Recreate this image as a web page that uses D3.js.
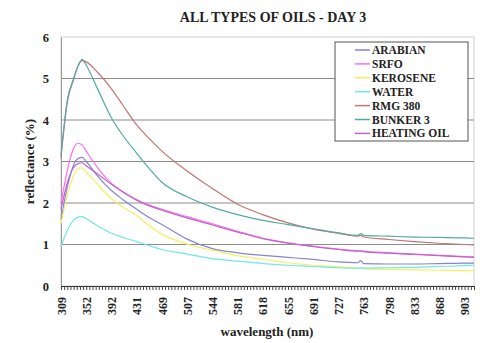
<!DOCTYPE html>
<html>
<head>
<meta charset="utf-8">
<script src="https://cdn.jsdelivr.net/npm/d3@7"></script>
<style>
body { margin: 0; background: #fff; }
text { font-family: "Liberation Serif", "Times New Roman", serif; font-weight: bold; fill: #222; }
</style>
</head>
<body>
<svg id="chart" width="482" height="343"></svg>
<script>
var wavelengths = [309,320,330,338,345,352,370,392,410,431,450,469,507,544,581,618,655,691,727,755,759,763,798,833,868,903,916];

var arabian  = [1.6,2.4,2.9,3.07,3.1,3.0,2.65,2.3,2.08,1.85,1.65,1.48,1.13,0.9,0.8,0.74,0.69,0.64,0.58,0.56,0.61,0.54,0.53,0.53,0.54,0.55,0.55];
var srfo     = [2.0,2.8,3.3,3.44,3.4,3.25,2.85,2.47,2.27,2.08,1.95,1.85,1.67,1.5,1.32,1.15,1.04,0.96,0.89,0.85,0.85,0.84,0.8,0.77,0.74,0.71,0.7];
var kerosene = [1.5,2.2,2.65,2.83,2.85,2.75,2.45,2.1,1.9,1.7,1.45,1.25,1.01,0.86,0.73,0.65,0.56,0.5,0.46,0.43,0.44,0.42,0.4,0.39,0.38,0.37,0.37];
var water    = [0.95,1.35,1.58,1.66,1.67,1.62,1.45,1.27,1.17,1.07,0.97,0.88,0.77,0.66,0.6,0.54,0.5,0.47,0.44,0.43,0.43,0.43,0.44,0.45,0.47,0.49,0.5];
var rmg380   = [3.1,4.45,4.95,5.3,5.43,5.4,5.15,4.75,4.35,3.88,3.55,3.25,2.77,2.35,1.97,1.72,1.52,1.37,1.27,1.2,1.22,1.18,1.12,1.07,1.03,1.0,0.99];
var bunker3  = [3.15,4.5,4.98,5.3,5.46,5.32,4.75,4.05,3.62,3.2,2.83,2.5,2.15,1.9,1.72,1.58,1.48,1.38,1.28,1.22,1.26,1.22,1.2,1.18,1.17,1.16,1.15];
var heating  = [1.85,2.5,2.85,2.95,2.97,2.9,2.7,2.45,2.26,2.07,1.93,1.83,1.64,1.47,1.3,1.14,1.03,0.95,0.88,0.84,0.84,0.83,0.79,0.76,0.73,0.7,0.69];

var seriesNames  = ["ARABIAN","SRFO","KEROSENE","WATER","RMG 380","BUNKER 3","HEATING OIL"];
var seriesValues = [arabian, srfo, kerosene, water, rmg380, bunker3, heating];
var seriesColors = ["#8484d8","#ff6cf0","#f4f060","#6ee8e4","#c47474","#52aaa4","#c062c8"];

// category labels on the x axis (every 8th channel), and the wavelength of the last channel
var tickLabels = [309,352,392,431,469,507,544,581,618,655,691,727,763,798,833,868,903];
var lastWl = 916;
var yTicks = [0,1,2,3,4,5,6];

// plot box (note: "top" is taken by window.top, so prefix everything)
var pLeft = 61, pRight = 474, pTop = 37, pBottom = 286;
var nChan = 131;

var svg = d3.select("#chart");

// channel index -> pixel
var xi = d3.scaleLinear().domain([0, nChan]).range([pLeft, pRight]);
// wavelength -> pixel, piecewise through the labelled channels
var x = d3.scaleLinear()
    .domain(tickLabels.concat([lastWl]))
    .range(tickLabels.map(function(d, i) { return xi(i * 8); }).concat([xi(nChan)]));
var y = d3.scaleLinear().domain([0, 6]).range([pBottom, pTop]);

// plot frame
svg.append("rect")
    .attr("x", pLeft).attr("y", pTop)
    .attr("width", pRight - pLeft).attr("height", pBottom - pTop)
    .attr("fill", "none").attr("stroke", "#d0d0d0");

// gridlines
svg.append("g")
    .selectAll("line")
    .data(yTicks.slice(1, 6))
  .enter().append("line")
    .attr("x1", pLeft).attr("x2", pRight)
    .attr("y1", y).attr("y2", y)
    .attr("stroke", "#8c8c8c");

// y axis
var yAxis = svg.append("g")
    .attr("transform", "translate(" + pLeft + ",0)")
    .call(d3.axisLeft(y).tickValues(yTicks).tickSize(0).tickPadding(12).tickFormat(d3.format("d")));
yAxis.select(".domain").attr("stroke", "#9a9a9a");
yAxis.selectAll("text").style("font-size", "12.5px").attr("fill", "#222");

// x axis: one small tick per channel
var xMinor = svg.append("g")
    .attr("transform", "translate(0," + pBottom + ")")
    .call(d3.axisBottom(xi).tickValues(d3.range(0, nChan + 1)).tickSize(4).tickFormat(""));
xMinor.select(".domain").attr("stroke", "#333");
xMinor.selectAll(".tick line").attr("stroke", "#444");

// x labels, rotated
var xAxis = svg.append("g")
    .attr("transform", "translate(0," + pBottom + ")")
    .call(d3.axisBottom(x).tickValues(tickLabels).tickSize(0).tickFormat(d3.format("d")));
xAxis.select(".domain").remove();
xAxis.selectAll("text")
    .attr("transform", "rotate(-90)")
    .attr("x", -11).attr("y", 0).attr("dy", "0.35em")
    .style("text-anchor", "end")
    .style("font-size", "12px")
    .attr("fill", "#222");

// curves
var line = d3.line()
    .x(function(d) { return x(d[0]); })
    .y(function(d) { return y(d[1]); })
    .curve(d3.curveMonotoneX);

svg.append("g")
    .selectAll("path")
    .data(seriesValues)
  .enter().append("path")
    .attr("d", function(vals) { return line(wavelengths.map(function(w, i) { return [w, vals[i]]; })); })
    .attr("fill", "none")
    .attr("stroke", function(d, i) { return seriesColors[i]; })
    .attr("stroke-width", 1.2);

// legend
var legend = svg.append("g");
legend.append("rect")
    .attr("x", 335).attr("y", 42).attr("width", 133).attr("height", 99)
    .attr("fill", "#fff").attr("stroke", "#555");
var rows = legend.selectAll("g.row")
    .data(seriesNames)
  .enter().append("g")
    .attr("class", "row")
    .attr("transform", function(d, i) { return "translate(0," + (50 + i * 13.9) + ")"; });
rows.append("line")
    .attr("x1", 355).attr("x2", 370)
    .attr("stroke", function(d, i) { return seriesColors[i]; })
    .attr("stroke-width", 1.5);
rows.append("text")
    .attr("x", 372).attr("dy", "0.35em")
    .style("font-size", "11.5px")
    .text(function(d) { return d; });

// titles
svg.append("text")
    .attr("x", 273).attr("y", 22)
    .style("text-anchor", "middle").style("font-size", "14px")
    .text("ALL TYPES OF OILS - DAY 3");

svg.append("text")
    .attr("transform", "translate(34," + ((pTop + pBottom) / 2) + ")rotate(-90)")
    .style("text-anchor", "middle").style("font-size", "13px")
    .text("reflectance (%)");

svg.append("text")
    .attr("x", 267).attr("y", 336)
    .style("text-anchor", "middle").style("font-size", "13px")
    .text("wavelength (nm)");
</script>
</body>
</html>
